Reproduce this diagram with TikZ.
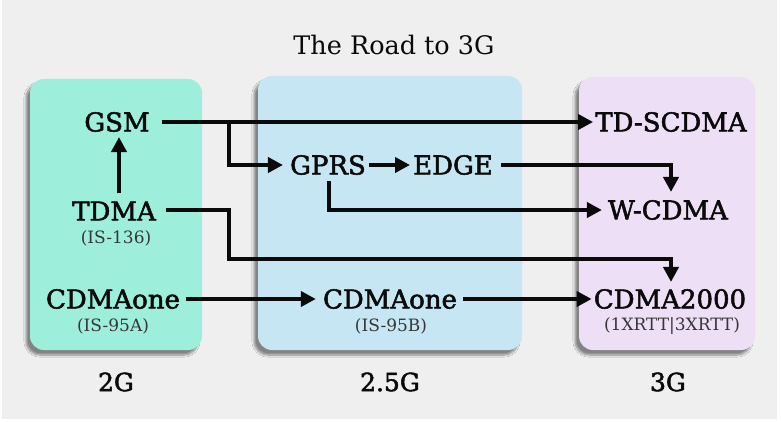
\documentclass[tikz,border=0pt]{standalone}
\usepackage{fontspec}
\setmainfont{DejaVu Serif}
\newfontfamily\lblfont[FakeBold=2]{DejaVu Serif}
\usetikzlibrary{arrows.meta,calc,shadows.blur}
\definecolor{bgc}{RGB}{239,239,239}
\definecolor{gbox}{RGB}{158,238,220}
\definecolor{bbox}{RGB}{197,230,242}
\definecolor{pbox}{RGB}{237,223,246}
\definecolor{ink}{RGB}{10,10,10}
\definecolor{subink}{RGB}{55,55,55}
\tikzset{
  genbox/.style={rounded corners=14pt, draw=none,
    blur shadow={shadow xshift=-4pt, shadow yshift=-5pt, shadow blur steps=8, shadow opacity=45}},
  lbl/.style={inner sep=0pt, text=ink, font=\lblfont\fontsize{26}{28}\selectfont},
  sub/.style={inner sep=0pt, text=subink, font=\fontsize{17}{19}\selectfont},
  gen/.style={inner sep=0pt, text=ink, font=\lblfont\fontsize{25}{28}\selectfont},
  ttl/.style={inner sep=0pt, text=ink, font=\fontsize{25.5}{28}\selectfont},
  arr/.style={draw=ink, line width=4pt, line join=miter, -{Triangle[length=15pt,width=15pt]}},
  ln/.style={draw=ink, line width=4pt, line join=miter}
}
\begin{document}
\begin{tikzpicture}[x=1pt,y=-1pt]
\useasboundingbox (0,0) rectangle (782,422);
\fill[white] (0,0) rectangle (782,422);
\fill[bgc] (2,0) rectangle (777,419);
% boxes
\path[genbox, fill=gbox] (30,79) rectangle (202,350);
\path[genbox, fill=bbox] (258,76) rectangle (522,350);
\path[genbox, fill=pbox] (579,77) rectangle (755,350);
% title
\node[ttl] (title) at (394,45) {The Road to 3G};
% labels
\node[lbl] (gsm) at (117,122) {GSM};
\node[lbl] (tdma) at (114,211) {TDMA};
\node[sub] (is136) at (116,238) {(IS-136)};
\node[lbl] (cdone) at (113,299) {CDMAone};
\node[sub] (is95a) at (113,326) {(IS-95A)};
\node[lbl] (gprs) at (328,165) {GPRS};
\node[lbl] (edge) at (453,165) {EDGE};
\node[lbl] (cdtwo) at (390,299) {CDMAone};
\node[sub] (is95b) at (391,326) {(IS-95B)};
\node[lbl] (tds) at (671,122) {TD-SCDMA};
\node[lbl] (wcdma) at (668,210) {W-CDMA};
\node[lbl] (c2k) at (670,299) {CDMA2000};
\node[sub] (rtt) at (672,326) {(1XRTT|3XRTT)};
\node[gen] (g2) at (116,382) {2G};
\node[gen] (g25) at (390,382) {2.5G};
\node[gen] (g3) at (668,382) {3G};
% connectors
\draw[arr] ($(gsm.east)+(12,0)$) -- ($(tds.west)+(-2,0)$);
\coordinate (br) at (229,122);
\draw[arr] (br) |- ($(gprs.west)+(-7,0)$);
\draw[arr] ($(gprs.east)+(3,0)$) -- ($(edge.west)+(-3,0)$);
\draw[arr] ($(edge.east)+(8,0)$) -| ($(wcdma.north)+(3,-8)$);
\draw[arr] ($(gprs.south)+(1,6)$) |- ($(wcdma.west)+(-6,0)$);
\coordinate (tj) at (229,259);
\draw[arr] ($(tdma.east)+(10,-1)$) -| (tj) -| ($(c2k.north)+(1,-7)$);
\draw[arr] ($(tdma.north)+(5,-8)$) -- ($(gsm.south)+(2,5)$);
\draw[arr] ($(cdone.east)+(6,0)$) -- ($(cdtwo.west)+(-7,0)$);
\draw[arr] ($(cdtwo.east)+(6,0)$) -- ($(c2k.west)+(-2,0)$);
\end{tikzpicture}
\end{document}
